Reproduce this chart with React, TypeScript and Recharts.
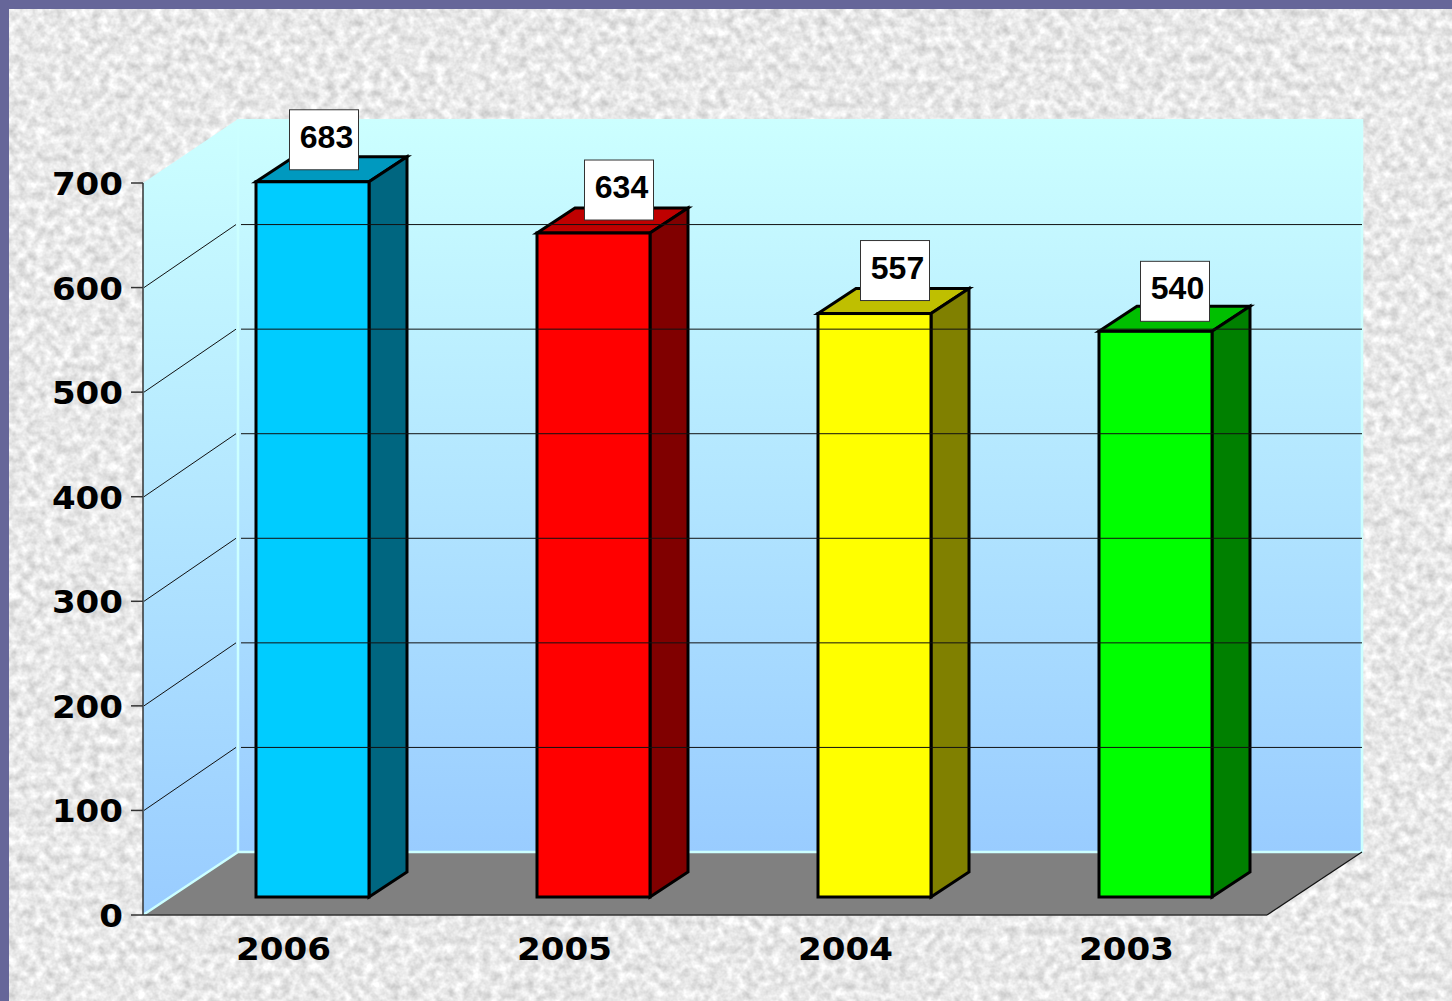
import React from 'react';
import { BarChart, Bar, XAxis, YAxis, LabelList, ReferenceArea, ReferenceLine } from 'recharts';

const years = ['2006', '2005', '2004', '2003'];
const counts = [683, 634, 557, 540];
const yTicks = [0, 100, 200, 300, 400, 500, 600, 700];
const gridValues = [100, 200, 300, 400, 500, 600];

const frontColors = ['#00ccff', '#ff0000', '#ffff00', '#00ff00'];
const topColors = ['#0099bf', '#bf0000', '#bfbf00', '#00bf00'];
const sideColors = ['#006680', '#800000', '#808000', '#008000'];

// chart frame: depth of the fake 3D box and of each column
const WALL_DX = 95;
const WALL_DY = -63;
const BAR_SHIFT_X = 29;
const BAR_SHIFT_Y = -18;
const BAR_DX = 38;
const BAR_DY = -25;
// the callout boxes do not sit at a regular place over the columns
const labelNudgeX = [41, 55, 50, 49];
const labelNudgeY = [0, -1, -1, 2];

const WALL_LIGHT = '#ccffff';

const tableData = years.map((year, i) => ({ year, count: counts[i] }));

const Walls = ({ x, y, width, height }: any) => {
  const bottom = y + height;
  const right = x + width;
  const bx = x + WALL_DX;
  const by = bottom + WALL_DY;
  const ty = y + WALL_DY - 1;
  return (
    <g>
      <polygon points={`${x},${y} ${bx},${ty} ${bx},${by} ${x},${bottom}`} fill="url(#wallFill)" />
      <rect x={bx} y={ty} width={width} height={by - ty} fill="url(#wallFill)" />
      <polygon points={`${x},${bottom} ${bx},${by} ${right + WALL_DX},${by} ${right},${bottom}`} fill="#808080" />
      <path
        d={`M${x},${bottom} L${bx},${by} L${right + WALL_DX},${by} L${right + WALL_DX},${ty} M${bx},${by} L${bx},${ty}`}
        fill="none"
        stroke={WALL_LIGHT}
        strokeWidth={2.5}
      />
      <line x1={right} y1={bottom} x2={right + WALL_DX} y2={by} stroke="#111" strokeWidth={1.2} />
    </g>
  );
};

const GridLine = ({ x1, x2, y1 }: any) => (
  <g stroke="#111" strokeWidth={1}>
    <line x1={x1 + 1} y1={y1} x2={x1 + WALL_DX - 2} y2={y1 + WALL_DY} />
    <line x1={x1 + WALL_DX + 3} y1={y1 + WALL_DY} x2={x2 + WALL_DX} y2={y1 + WALL_DY} />
  </g>
);

const Column = ({ x, y, width, height, index }: any) => {
  const left = x + BAR_SHIFT_X;
  const right = left + width;
  const top = y + BAR_SHIFT_Y - 1;
  const base = y + height + BAR_SHIFT_Y;
  const line = { stroke: '#000', strokeWidth: 3, strokeLinejoin: 'miter' as const };
  return (
    <g>
      <polygon
        points={`${left},${top} ${left + BAR_DX},${top + BAR_DY} ${right + BAR_DX},${top + BAR_DY} ${right},${top}`}
        fill={topColors[index]}
        {...line}
      />
      <polygon
        points={`${right},${top} ${right + BAR_DX},${top + BAR_DY} ${right + BAR_DX},${base + BAR_DY} ${right},${base}`}
        fill={sideColors[index]}
        {...line}
      />
      <rect x={left} y={top} width={width} height={base - top} fill={frontColors[index]} {...line} />
    </g>
  );
};

const ValueBox = ({ x, y, width, value, index }: any) => {
  const cx = x + width / 2 + labelNudgeX[index];
  const boxTop = y - 91 + labelNudgeY[index];
  return (
    <g>
      <rect x={cx - 35} y={boxTop} width={69} height={60} fill="#fff" stroke="#333" strokeWidth={1} />
      <text
        x={cx + 2}
        y={boxTop + 38}
        textAnchor="middle"
        fontFamily="'Liberation Sans', Arial, sans-serif"
        fontWeight="bold"
        fontSize={32}
        fill="#000"
      >
        {value}
      </text>
    </g>
  );
};

const labelFont = {
  fontFamily: "'DejaVu Sans', Verdana, sans-serif",
  fontWeight: 'bold',
  fontSize: 32,
  fill: '#000',
};

// the original labels are a wide bold face, DejaVu needs a little horizontal stretch
const STRETCH = 1.065;

const YearTick = ({ x, y, payload }: any) => (
  <text {...labelFont} textAnchor="middle" transform={`translate(${x},${y + 37}) scale(${STRETCH},1)`}>
    {payload.value}
  </text>
);

const CountTick = ({ x, y, payload }: any) => (
  <text {...labelFont} textAnchor="end" transform={`translate(${x - 8},${y + 12}) scale(${STRETCH},1)`}>
    {payload.value}
  </text>
);

export default function App() {
  return (
    <div style={{ position: 'relative', width: 1452, height: 1001, overflow: 'hidden', background: '#666699' }}>
      <style>{'body{margin:0}'}</style>
      <svg width={1443} height={992} style={{ position: 'absolute', left: 9, top: 9 }}>
        <filter id="stone" x="0" y="0" width="100%" height="100%" colorInterpolationFilters="sRGB">
          <feTurbulence type="fractalNoise" baseFrequency="0.11" numOctaves={3} seed={7} />
          <feColorMatrix type="matrix" values="0.32 0 0 0 0.75  0.32 0 0 0 0.75  0.32 0 0 0 0.75  0 0 0 0 1" />
        </filter>
        <rect width={1443} height={992} filter="url(#stone)" />
      </svg>
      <div style={{ position: 'absolute', left: 0, top: 0 }}>
        <BarChart
          width={1452}
          height={1001}
          data={tableData}
          margin={{ top: 183, right: 185, bottom: 0, left: 0 }}
          barCategoryGap={0}
        >
          <defs>
            <linearGradient id="wallFill" x1="0" y1="0" x2="0" y2="1">
              <stop offset="0%" stopColor="#ccffff" />
              <stop offset="100%" stopColor="#99ccff" />
            </linearGradient>
          </defs>
          <ReferenceArea y1={0} y2={700} ifOverflow="visible" shape={<Walls />} />
          {gridValues.map((v) => (
            <ReferenceLine key={v} y={v} ifOverflow="visible" shape={<GridLine />} />
          ))}
          <XAxis
            dataKey="year"
            height={86}
            tickLine={false}
            axisLine={{ stroke: '#333', strokeWidth: 1.5 }}
            tick={<YearTick />}
            interval={0}
          />
          <YAxis
            width={143}
            domain={[0, 700]}
            ticks={yTicks}
            interval={0}
            tick={<CountTick />}
            tickSize={12}
            tickMargin={0}
            tickLine={{ stroke: '#333', strokeWidth: 1.5 }}
            axisLine={{ stroke: '#333', strokeWidth: 1.5 }}
          />
          <Bar dataKey="count" barSize={113} shape={<Column />} isAnimationActive={false}>
            <LabelList dataKey="count" content={<ValueBox />} />
          </Bar>
        </BarChart>
      </div>
    </div>
  );
}
